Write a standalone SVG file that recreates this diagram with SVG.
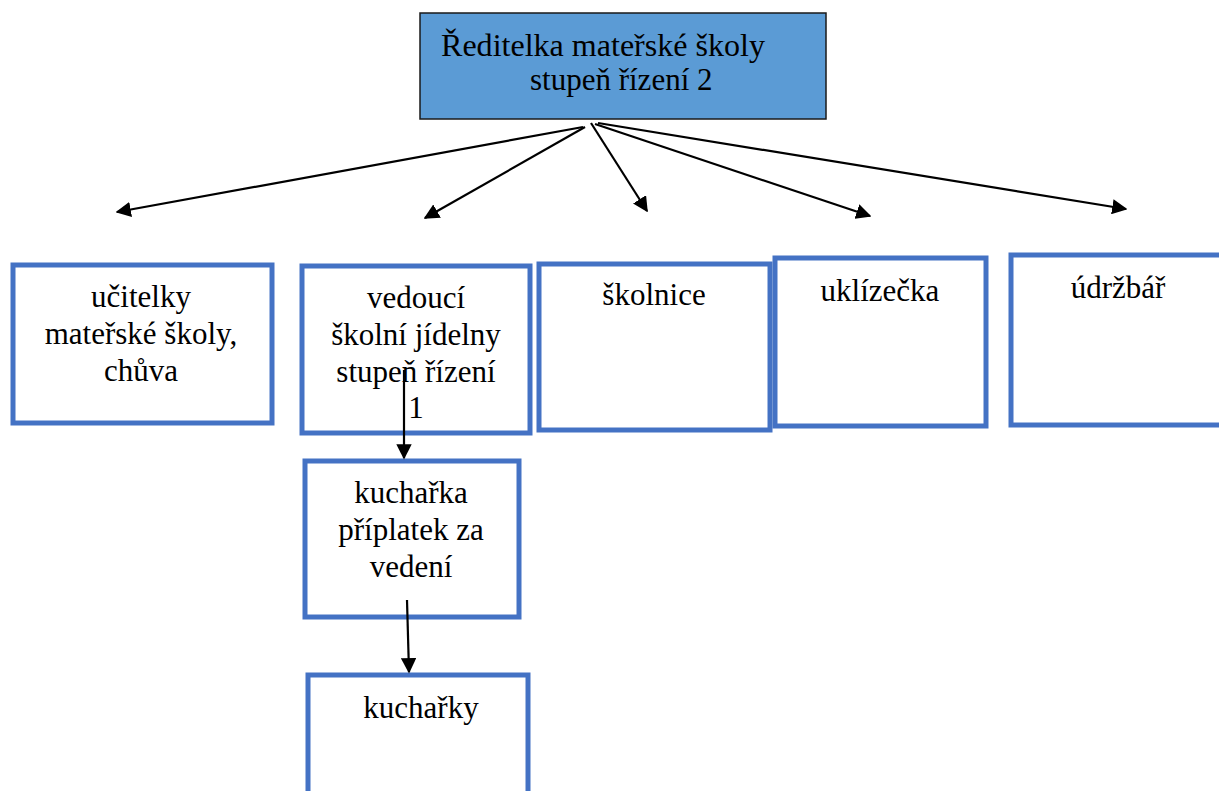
<svg xmlns="http://www.w3.org/2000/svg" width="1219" height="791" viewBox="0 0 1219 791">
<style>
.box{fill:#fff;stroke:#4472C4;stroke-width:5}
.t{font-family:"Liberation Serif","Times New Roman",serif;font-size:31px;fill:#000}
.c{text-anchor:middle}
.ln{stroke:#000;stroke-width:2.2;fill:none;marker-end:url(#ah)}
</style>
<defs>
<marker id="ah" viewBox="0 0 10 10" refX="9" refY="5" markerWidth="7" markerHeight="7" markerUnits="strokeWidth" orient="auto">
<path d="M0,0 L10,5 L0,10 z" fill="#000"/>
</marker>
</defs>
<rect width="1219" height="791" fill="#fff"/>
<g id="reditelka">
<rect x="420" y="13" width="406" height="106" fill="#5B9BD5" stroke="#1a1a1a" stroke-width="1.5"/>
<text class="t" x="441" y="56" textLength="324" lengthAdjust="spacingAndGlyphs">Ředitelka mateřské školy</text>
<text class="t" x="530" y="90">stupeň řízení 2</text>
</g>
<g id="ucitelky">
<rect class="box" x="13" y="265" width="259" height="158"/>
<text class="t c" x="141" y="307">učitelky</text>
<text class="t c" x="141" y="344">mateřské školy,</text>
<text class="t c" x="141" y="381">chůva</text>
</g>
<g id="vedouci">
<rect class="box" x="302" y="266" width="228" height="167"/>
<text class="t c" x="416" y="308">vedoucí</text>
<text class="t c" x="416" y="345">školní jídelny</text>
<text class="t c" x="416" y="382">stupeň řízení</text>
<text class="t c" x="416" y="418">1</text>
</g>
<g id="skolnice">
<rect class="box" x="539" y="264" width="231" height="166"/>
<text class="t c" x="654" y="305">školnice</text>
</g>
<g id="uklizecka">
<rect class="box" x="775" y="258" width="211" height="168"/>
<text class="t c" x="880" y="301">uklízečka</text>
</g>
<g id="udrzbar">
<rect class="box" x="1011" y="255" width="212" height="170"/>
<text class="t c" x="1118" y="298">údržbář</text>
</g>
<g id="kucharka">
<rect class="box" x="305" y="461" width="214" height="156"/>
<text class="t c" x="411" y="503">kuchařka</text>
<text class="t c" x="411" y="540">příplatek za</text>
<text class="t c" x="411" y="577">vedení</text>
</g>
<g id="kucharky">
<rect class="box" x="308" y="675" width="220" height="130"/>
<text class="t c" x="421" y="718">kuchařky</text>
</g>
<g id="connectors">
<line class="ln" x1="583" y1="127" x2="117" y2="212"/>
<line class="ln" x1="585" y1="127" x2="425" y2="218"/>
<line class="ln" x1="591" y1="123" x2="647" y2="211"/>
<line class="ln" x1="595" y1="124" x2="870" y2="216"/>
<line class="ln" x1="598" y1="123" x2="1126" y2="209"/>
<line class="ln" x1="404" y1="370" x2="404" y2="458"/>
<line class="ln" x1="407" y1="600" x2="409" y2="672"/>
</g>
</svg>
